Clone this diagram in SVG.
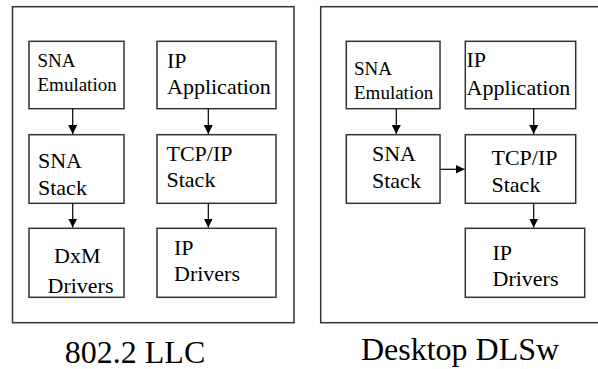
<svg xmlns="http://www.w3.org/2000/svg" width="598" height="369" viewBox="0 0 598 369">
<defs>
<marker id="ah" viewBox="0 0 10 10" refX="10" refY="5" markerUnits="userSpaceOnUse" markerWidth="9" markerHeight="9" orient="auto">
<path d="M0,0 L10,5 L0,10 z" fill="#000"/>
</marker>
</defs>
<g id="panel-llc">
<rect x="12.5" y="6.7" width="281.5" height="316" fill="none" stroke="#333" stroke-width="1.5"/>
<text x="135" y="363" font-family="Liberation Serif" font-size="32" text-anchor="middle">802.2 LLC</text>
</g>
<g id="panel-dlsw">
<rect x="320.7" y="6.7" width="290" height="316" fill="none" stroke="#333" stroke-width="1.5"/>
<text x="460" y="359.5" font-family="Liberation Serif" font-size="32" text-anchor="middle">Desktop DLSw</text>
</g>
<g id="l-sna-emul" font-family="Liberation Serif" font-size="19">
<rect x="29" y="41.3" width="95" height="67.4" fill="#fff" stroke="#333" stroke-width="1.5"/>
<text x="37.5" y="67">SNA</text>
<text x="37.5" y="90.5">Emulation</text>
</g>
<g id="l-ip-app" font-family="Liberation Serif" font-size="22">
<rect x="157" y="41.3" width="119" height="67.4" fill="#fff" stroke="#333" stroke-width="1.5"/>
<text x="167" y="67.5">IP</text>
<text x="167" y="94">Application</text>
</g>
<g id="l-sna-stack" font-family="Liberation Serif" font-size="22">
<rect x="29" y="134.7" width="95" height="68.6" fill="#fff" stroke="#333" stroke-width="1.5"/>
<text x="38" y="168">SNA</text>
<text x="38" y="195">Stack</text>
</g>
<g id="l-tcpip" font-family="Liberation Serif" font-size="22">
<rect x="157" y="134.7" width="119" height="68.6" fill="#fff" stroke="#333" stroke-width="1.5"/>
<text x="166.5" y="160.5">TCP/IP</text>
<text x="166.5" y="187">Stack</text>
</g>
<g id="l-dxm" font-family="Liberation Serif" font-size="22">
<rect x="29" y="228.3" width="95" height="69" fill="#fff" stroke="#333" stroke-width="1.5"/>
<text x="54" y="263">DxM</text>
<text x="47.5" y="293">Drivers</text>
</g>
<g id="l-ip-drv" font-family="Liberation Serif" font-size="22">
<rect x="157" y="228.3" width="119" height="69" fill="#fff" stroke="#333" stroke-width="1.5"/>
<text x="174" y="254.5">IP</text>
<text x="174" y="281">Drivers</text>
</g>
<g id="r-sna-emul" font-family="Liberation Serif" font-size="19">
<rect x="346.3" y="41.3" width="93.7" height="67.4" fill="#fff" stroke="#333" stroke-width="1.5"/>
<text x="354" y="74.5">SNA</text>
<text x="354" y="99">Emulation</text>
</g>
<g id="r-ip-app" font-family="Liberation Serif" font-size="22">
<rect x="465.3" y="41.3" width="110.4" height="67.4" fill="#fff" stroke="#333" stroke-width="1.5"/>
<text x="466.5" y="67">IP</text>
<text x="466.5" y="94.5">Application</text>
</g>
<g id="r-sna-stack" font-family="Liberation Serif" font-size="22">
<rect x="346.3" y="134.7" width="93.7" height="68.6" fill="#fff" stroke="#333" stroke-width="1.5"/>
<text x="372" y="161">SNA</text>
<text x="372" y="188">Stack</text>
</g>
<g id="r-tcpip" font-family="Liberation Serif" font-size="22">
<rect x="465.3" y="134.7" width="110.4" height="68.6" fill="#fff" stroke="#333" stroke-width="1.5"/>
<text x="491.5" y="165">TCP/IP</text>
<text x="491.5" y="192">Stack</text>
</g>
<g id="r-ip-drv" font-family="Liberation Serif" font-size="22">
<rect x="465.3" y="228.3" width="119.4" height="69" fill="#fff" stroke="#333" stroke-width="1.5"/>
<text x="492.5" y="259.5">IP</text>
<text x="492.5" y="286">Drivers</text>
</g>
<g id="connectors" stroke="#000" stroke-width="1.2" fill="none" marker-end="url(#ah)">
<line x1="72.7" y1="108.7" x2="72.7" y2="134"/>
<line x1="208.3" y1="108.7" x2="208.3" y2="134"/>
<line x1="72.7" y1="203.3" x2="72.7" y2="227.6"/>
<line x1="208.3" y1="203.3" x2="208.3" y2="227.6"/>
<line x1="396.3" y1="108.7" x2="396.3" y2="134"/>
<line x1="533.7" y1="108.7" x2="533.7" y2="134"/>
<line x1="440" y1="169.3" x2="464.6" y2="169.3"/>
<line x1="533.7" y1="203.3" x2="533.7" y2="227.6"/>
</g>
</svg>
